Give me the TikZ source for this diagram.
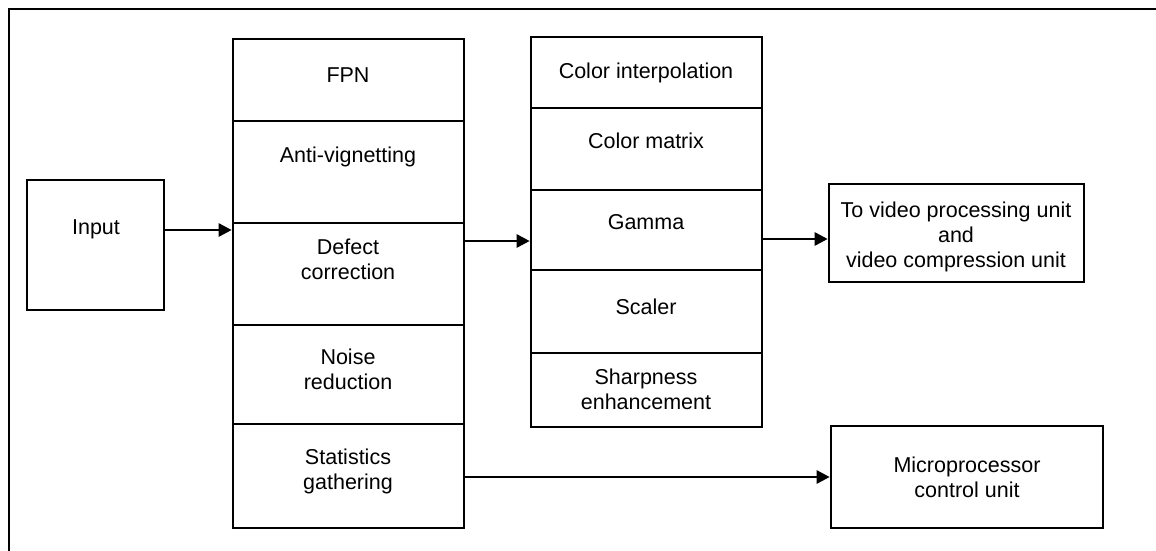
\documentclass[tikz,border=0pt]{standalone}
\usepackage{fontspec}
\setmainfont{Liberation Sans}
\usetikzlibrary{arrows.meta}
\begin{document}
\begin{tikzpicture}[x=1pt,y=-1pt,
  lw/.style={line width=2.6pt},
  cellbox/.style={draw,lw,inner sep=0pt},
  lbl/.style={inner sep=0pt,align=center,font=\fontsize{21.5}{25}\selectfont},
  arr/.style={lw,-{Triangle[length=13pt,width=13pt]}}]
\useasboundingbox (0,0) rectangle (1156,551);
% outer frame (cropped on right and bottom)
\draw[lw] (9,560) -- (9,9) -- (1165,9);
% input
\node[cellbox,minimum width=137pt,minimum height=130pt] (input) at (95.5,245) {};
\node[lbl] (tinput) at (96,229) {Input};
% left column
\node[cellbox,minimum width=231pt,minimum height=82pt] (fpn) at (348.5,80) {};
\node[cellbox,minimum width=231pt,minimum height=102pt] (av) at (348.5,172) {};
\node[cellbox,minimum width=231pt,minimum height=102pt] (dc) at (348.5,274) {};
\node[cellbox,minimum width=231pt,minimum height=99pt] (nr) at (348.5,374.5) {};
\node[cellbox,minimum width=231pt,minimum height=104pt] (sg) at (348.5,476) {};
\node[lbl] (tfpn) at (348,75) {FPN};
\node[lbl] (tav) at (348,157) {Anti-vignetting};
\node[lbl] (tdc) at (348,259) {Defect\\correction};
\node[lbl] (tnr) at (348,369) {Noise\\reduction};
\node[lbl] (tsg) at (348,471) {Statistics\\gathering};
% middle column
\node[cellbox,minimum width=231pt,minimum height=71pt] (ci) at (646.5,72.5) {};
\node[cellbox,minimum width=231pt,minimum height=82pt] (cm) at (646.5,149) {};
\node[cellbox,minimum width=231pt,minimum height=80pt] (ga) at (646.5,230) {};
\node[cellbox,minimum width=231pt,minimum height=83pt] (sc) at (646.5,311.5) {};
\node[cellbox,minimum width=231pt,minimum height=74pt] (se) at (646.5,390) {};
\node[lbl] (tci) at (646,73) {Color interpolation};
\node[lbl] (tcm) at (646,141) {Color matrix};
\node[lbl] (tga) at (646,222) {Gamma};
\node[lbl] (tsc) at (646,307) {Scaler};
\node[lbl] (tse) at (646,389) {Sharpness\\enhancement};
% output boxes
\node[cellbox,minimum width=255pt,minimum height=98pt] (out) at (956.5,233) {};
\node[lbl] (tout) at (956,237) {To video processing unit\\and\\video compression unit};
\node[cellbox,minimum width=272pt,minimum height=102pt] (mcu) at (967,477) {};
\node[lbl] (tmcu) at (967,477) {Microprocessor\\control unit};
% connectors
\draw[arr] (input.east |- 0,230) -- (dc.west |- 0,230);
\draw[arr] (dc.east |- 0,241) -- (ga.west |- 0,241);
\draw[arr] (ga.east |- 0,239) -- (out.west |- 0,239);
\draw[arr] (sg.east |- 0,477) -- (mcu.west |- 0,477);
\end{tikzpicture}
\end{document}
